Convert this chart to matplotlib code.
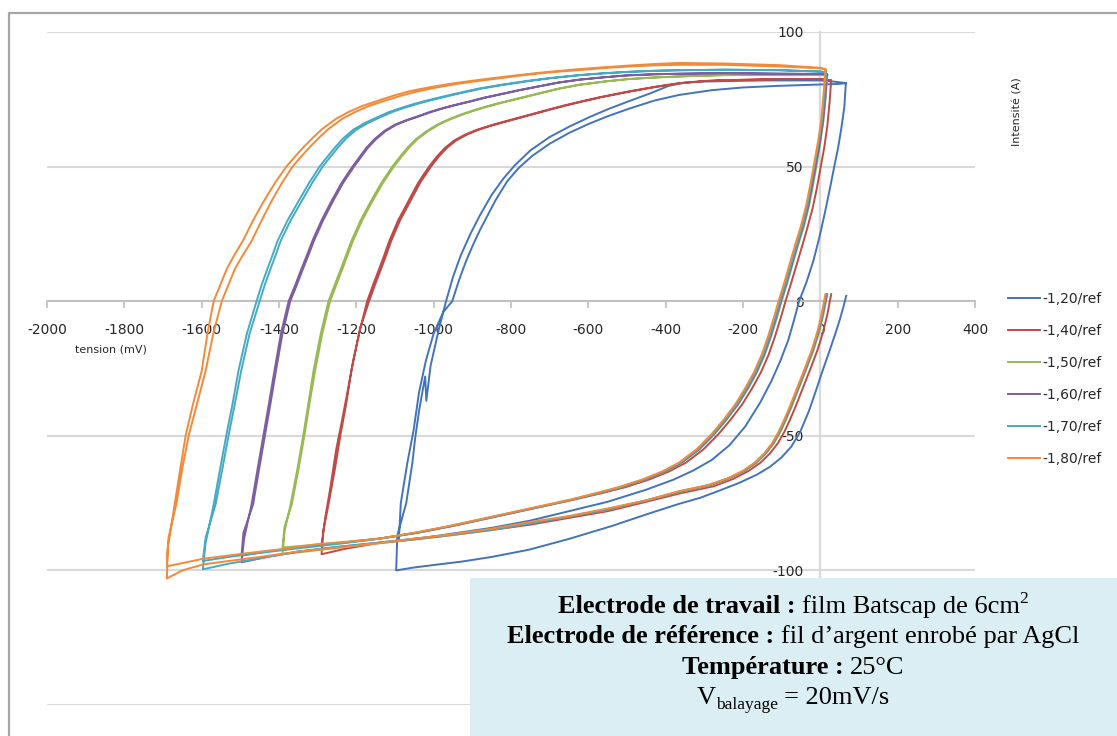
import matplotlib
matplotlib.use("Agg")
import matplotlib.pyplot as plt
from matplotlib.lines import Line2D
from matplotlib.patches import Rectangle

plt.rcParams['axes.unicode_minus'] = False
plt.rcParams['font.family'] = ['DejaVu Sans']

# ---------------- data (tension mV, intensité A), path order ----------------
c120 = [(67, 2), (58, -3), (50, -7), (39, -12), (20, -20), (3, -27), (-12, -33.5), (-30, -41), (-52, -48.5),
        (-75, -54), (-100, -58), (-130, -61.5), (-165, -64.5), (-210, -67.5), (-260, -70.3), (-310, -73),
        (-366, -75.3), (-450, -79.2), (-539, -83.5), (-650, -88.3), (-753, -92.3), (-850, -95), (-926, -96.7),
        (-1000, -98), (-1055, -99), (-1097, -100),
        (-1094, -87), (-1071, -75), (-1055, -60), (-1048, -51), (-1037, -40), (-1022, -28), (-1019, -37),
        (-1008, -24), (-986, -10), (-968, 0), (-950, 9), (-930, 17), (-905, 25), (-880, 32), (-850, 39.5),
        (-820, 45.5), (-790, 50.5), (-750, 56), (-700, 61), (-650, 64.8), (-600, 68.2), (-550, 71.3),
        (-495, 74.3), (-440, 77.2), (-392, 80), (-350, 81.2), (-300, 81.6), (-150, 82), (0, 82), (40, 81.5),
        (66, 81),
        (62, 72), (54, 64), (46, 57), (36, 50), (25, 42), (12, 33), (-2, 24), (-18, 15), (-36, 7), (-55, 0),
        (-68, -7), (-83, -14.5), (-103, -22), (-126, -29.5), (-155, -37.5), (-194, -46.5), (-235, -53.5),
        (-281, -59), (-330, -63), (-380, -66.3), (-450, -70), (-550, -74.5), (-650, -78), (-750, -81.5),
        (-850, -84.2), (-950, -86.3), (-1030, -88), (-1090, -89),
        (-1085, -75), (-1068, -60), (-1052, -48), (-1038, -34), (-1020, -22), (-1000, -12), (-975, -4),
        (-952, 0), (-934, 8), (-916, 15), (-898, 21), (-880, 26.5), (-860, 32), (-840, 37.5), (-810, 44.5),
        (-780, 49.5), (-745, 54), (-700, 58.5), (-650, 62.5), (-600, 65.8), (-550, 68.7), (-495, 71.5),
        (-430, 74.5), (-366, 76.6), (-280, 78.4), (-200, 79.4), (-108, 80), (0, 80.5), (46, 80.7), (66, 81)]

c140 = [(28, 2.6), (18, -5), (7, -11.5), (-7, -18), (-24, -24.5), (-43, -31.5), (-65, -39.5), (-80, -44.5),
        (-93, -48.5), (-110, -52.8), (-130, -56.5), (-155, -60), (-185, -63), (-225, -66), (-275, -68.7),
        (-366, -71.5), (-450, -74.5), (-550, -78), (-650, -80.5), (-750, -83), (-850, -85), (-960, -87),
        (-1050, -88.5), (-1150, -90), (-1230, -92), (-1290, -94),
        (-1285, -85), (-1272, -75.5), (-1255, -62), (-1241, -49.6), (-1226, -38), (-1213, -26), (-1193, -12),
        (-1172, 0), (-1157, 6), (-1141, 12), (-1128, 17), (-1115, 22.3), (-1092, 30), (-1066, 37),
        (-1040, 44), (-1012, 50), (-993, 53.5), (-972, 56.8), (-948, 59.6), (-920, 61.8), (-890, 63.6),
        (-860, 65), (-831, 66.2), (-790, 67.8), (-750, 69.4), (-700, 71.3), (-660, 72.8), (-625, 74),
        (-570, 75.8), (-500, 77.8), (-430, 79.6), (-366, 81), (-300, 81.8), (-250, 82.1), (-108, 82.5),
        (0, 82.5), (28, 82),
        (24, 74), (18, 65), (10, 57), (1, 50), (-9, 42), (-20, 34.5), (-34, 27), (-48, 20), (-62, 13.2),
        (-76, 6.5), (-90, 0), (-102, -6), (-117, -13), (-134, -20), (-154, -26.5), (-177, -32.5),
        (-202, -38.3), (-232, -44), (-263, -49.3), (-302, -55), (-348, -60), (-392, -63.3), (-442, -66.2),
        (-502, -69), (-565, -71.3), (-640, -73.8), (-710, -76), (-790, -78.5), (-870, -81), (-950, -83.5),
        (-1040, -86), (-1140, -88.2), (-1220, -89.5), (-1290, -90.5),
        (-1280, -80), (-1268, -70), (-1252, -55), (-1238, -45), (-1222, -33), (-1208, -22), (-1190, -10),
        (-1167, 0), (-1152, 6), (-1136, 12), (-1123, 17), (-1110, 22.3), (-1087, 30), (-1061, 37),
        (-1035, 44), (-1007, 50), (-988, 53.5), (-967, 56.8), (-943, 59.6), (-915, 61.8), (-885, 63.6),
        (-855, 65), (-826, 66.2), (-785, 67.8), (-745, 69.4), (-695, 71.3), (-655, 72.8), (-620, 74),
        (-565, 75.8), (-495, 77.8), (-425, 79.6), (-360, 81), (-295, 81.8), (-245, 82.1), (-100, 82.5),
        (0, 82.5), (28, 82)]

c150 = [(18, 2.6), (8, -5), (-3, -11.5), (-17, -18), (-34, -24.5), (-53, -31.5), (-75, -39.5), (-90, -44.5),
        (-103, -48.5), (-120, -52.8), (-140, -56.5), (-165, -60), (-195, -63), (-235, -65.9), (-285, -68.4),
        (-366, -71), (-450, -74), (-550, -77.5), (-650, -80), (-750, -82.5), (-850, -85), (-960, -87),
        (-1050, -88.5), (-1150, -90), (-1270, -92), (-1391, -94),
        (-1385, -85), (-1370, -75.5), (-1352, -62), (-1337, -49.6), (-1324, -38), (-1311, -26), (-1292, -12),
        (-1272, 0), (-1256, 6), (-1240, 12), (-1227, 17), (-1213, 22.3), (-1189, 30), (-1163, 37),
        (-1135, 44), (-1107, 50), (-1088, 53.5), (-1068, 57), (-1046, 60.2), (-1020, 63), (-992, 65.5),
        (-962, 67.5), (-930, 69.3), (-895, 71), (-862, 72.4), (-831, 73.6), (-780, 75.4), (-730, 77.2),
        (-680, 78.9), (-625, 80.4), (-560, 81.6), (-500, 82.5), (-430, 83.1), (-366, 83.5), (-250, 84),
        (-108, 84), (0, 84), (18, 84),
        (14, 76), (8, 67), (0, 59), (-9, 51), (-19, 43), (-29, 35.5), (-42, 28), (-57, 21), (-72, 13.5),
        (-86, 6.5), (-100, 0), (-112, -6), (-127, -13), (-144, -20), (-164, -26.5), (-187, -32.5),
        (-212, -38.3), (-242, -44), (-273, -49.3), (-312, -55), (-358, -60), (-402, -63.3), (-452, -66.2),
        (-512, -69), (-572, -71.3), (-642, -73.8), (-712, -76), (-792, -78.5), (-872, -81), (-952, -83.5),
        (-1042, -86), (-1140, -88.2), (-1270, -90), (-1391, -91.5),
        (-1386, -84), (-1367, -75.5), (-1349, -62), (-1334, -49.6), (-1321, -38), (-1307, -26), (-1288, -12),
        (-1268, 0), (-1252, 6), (-1236, 12), (-1223, 17), (-1209, 22.3), (-1185, 30), (-1159, 37),
        (-1131, 44), (-1103, 50), (-1084, 53.5), (-1064, 57), (-1042, 60.2), (-1016, 63), (-988, 65.5),
        (-958, 67.5), (-926, 69.3), (-891, 71), (-858, 72.4), (-827, 73.6), (-776, 75.4), (-726, 77.2),
        (-676, 78.9), (-621, 80.4), (-556, 81.6), (-496, 82.5), (-426, 83.1), (-362, 83.5), (-246, 84),
        (-104, 84), (0, 84), (18, 84)]

c160 = [(17, 2.6), (6, -5), (-5, -11.5), (-19, -18), (-36, -24.5), (-55, -31.5), (-77, -39.5), (-92, -44.5),
        (-105, -48.5), (-122, -52.8), (-142, -56.5), (-167, -60), (-197, -63), (-237, -65.8), (-287, -68.3),
        (-366, -70.8), (-450, -74), (-550, -77.3), (-650, -80), (-750, -82.5), (-850, -84.8), (-960, -86.8),
        (-1050, -88.3), (-1150, -89.8), (-1250, -91.3), (-1350, -93), (-1430, -95), (-1497, -97),
        (-1490, -88), (-1471, -75.5), (-1455, -62), (-1440, -49.6), (-1426, -38), (-1412, -26), (-1395, -12),
        (-1375, 0), (-1358, 6), (-1342, 12), (-1328, 17), (-1314, 22.3), (-1290, 30), (-1265, 37),
        (-1238, 44), (-1210, 50), (-1192, 53.5), (-1174, 57), (-1153, 60.2), (-1128, 63.2), (-1100, 65.6),
        (-1070, 67.3), (-1045, 68.5), (-1010, 70.3), (-975, 71.8), (-940, 73.1), (-908, 74.2), (-870, 75.6),
        (-831, 76.8), (-780, 78.4), (-730, 79.8), (-680, 81.2), (-625, 82.3), (-560, 83.2), (-500, 83.9),
        (-430, 84.3), (-366, 84.5), (-250, 84.7), (-108, 84.5), (0, 84.4), (17, 84.3),
        (13, 76), (7, 67), (-1, 59), (-11, 51), (-21, 43), (-31, 35.5), (-44, 28), (-59, 21), (-74, 13.5),
        (-88, 6.5), (-102, 0), (-114, -6), (-129, -13), (-146, -20), (-166, -26.5), (-189, -32.5),
        (-214, -38.3), (-244, -44), (-275, -49.3), (-314, -55), (-360, -60), (-404, -63.3), (-454, -66.2),
        (-514, -69), (-574, -71.3), (-644, -73.8), (-714, -76), (-794, -78.5), (-874, -81), (-954, -83.5),
        (-1044, -86), (-1140, -88.2), (-1250, -90), (-1350, -91.5), (-1430, -93), (-1497, -94.5),
        (-1492, -86), (-1467, -75.5), (-1451, -62), (-1436, -49.6), (-1422, -38), (-1408, -26), (-1391, -12),
        (-1371, 0), (-1354, 6), (-1338, 12), (-1324, 17), (-1310, 22.3), (-1286, 30), (-1261, 37),
        (-1234, 44), (-1206, 50), (-1188, 53.5), (-1170, 57), (-1149, 60.2), (-1124, 63.2), (-1096, 65.6),
        (-1066, 67.3), (-1041, 68.5), (-1006, 70.3), (-971, 71.8), (-936, 73.1), (-904, 74.2), (-866, 75.6),
        (-827, 76.8), (-776, 78.4), (-726, 79.8), (-676, 81.2), (-621, 82.3), (-556, 83.2), (-496, 83.9),
        (-426, 84.3), (-362, 84.5), (-246, 84.7), (-104, 84.5), (0, 84.4), (17, 84.3)]

c170 = [(15, 2.6), (5, -5), (-6, -11.5), (-20, -18), (-37, -24.5), (-56, -31.5), (-78, -39.5), (-93, -44.5),
        (-106, -48.5), (-123, -52.8), (-143, -56.5), (-168, -60), (-198, -63), (-238, -65.8), (-288, -68.3),
        (-366, -70.7), (-450, -74), (-550, -77.2), (-650, -80), (-750, -82.5), (-850, -84.8), (-960, -86.8),
        (-1050, -88.2), (-1150, -89.8), (-1250, -91.3), (-1350, -93), (-1450, -95.5), (-1530, -97.5),
        (-1597, -99.6),
        (-1590, -90), (-1569, -75.5), (-1552, -62), (-1536, -49.6), (-1520, -38), (-1505, -26), (-1483, -12),
        (-1458, 0), (-1445, 6), (-1430, 12), (-1417, 17), (-1404, 22.3), (-1378, 30), (-1350, 37),
        (-1322, 44), (-1295, 50), (-1276, 53.5), (-1256, 57), (-1234, 60.5), (-1208, 63.7), (-1178, 66.2),
        (-1148, 68.2), (-1115, 70.3), (-1080, 72), (-1050, 73.3), (-1019, 74.5), (-985, 75.7), (-950, 76.9),
        (-915, 78), (-883, 79), (-830, 80.3), (-760, 81.8), (-700, 82.9), (-625, 84), (-560, 84.7),
        (-500, 85.2), (-430, 85.6), (-366, 85.8), (-250, 86), (-108, 85.8), (0, 85.3), (15, 85),
        (11, 77), (5, 68), (-3, 60), (-13, 52), (-23, 44), (-33, 36), (-46, 28), (-61, 21), (-76, 13.5),
        (-90, 6.5), (-104, 0), (-116, -6), (-131, -13), (-148, -20), (-168, -26.5), (-191, -32.5),
        (-216, -38.3), (-246, -44), (-277, -49.3), (-316, -55), (-362, -60), (-406, -63.3), (-456, -66.2),
        (-516, -69), (-576, -71.3), (-646, -73.8), (-716, -76), (-796, -78.5), (-876, -81), (-956, -83.5),
        (-1046, -86), (-1140, -88.2), (-1250, -90.2), (-1350, -91.8), (-1450, -93.5), (-1530, -95),
        (-1597, -96.5),
        (-1590, -88), (-1564, -75.5), (-1546, -62), (-1530, -49.6), (-1514, -38), (-1498, -26), (-1476, -12),
        (-1450, 0), (-1437, 6), (-1422, 12), (-1409, 17), (-1396, 22.3), (-1370, 30), (-1342, 37),
        (-1314, 44), (-1287, 50), (-1268, 53.5), (-1248, 57), (-1226, 60.5), (-1200, 63.7), (-1170, 66.2),
        (-1140, 68.2), (-1107, 70.3), (-1072, 72), (-1042, 73.3), (-1011, 74.5), (-977, 75.7), (-942, 76.9),
        (-907, 78), (-875, 79), (-822, 80.3), (-752, 81.8), (-692, 82.9), (-617, 84), (-552, 84.7),
        (-492, 85.2), (-424, 85.6), (-360, 85.8), (-245, 86), (-100, 85.8), (0, 85.3), (15, 85)]

c180 = [(13, 2.6), (3, -5), (-8, -11.5), (-22, -18), (-39, -24.5), (-58, -31.5), (-80, -39.5), (-95, -44.5),
        (-108, -48.5), (-125, -52.8), (-145, -56.5), (-170, -60), (-200, -63), (-240, -65.8), (-290, -68.3),
        (-366, -70.6), (-450, -74), (-550, -77), (-650, -79.8), (-750, -82), (-850, -84.5), (-960, -86.7),
        (-1050, -88.2), (-1150, -90), (-1250, -91.6), (-1350, -93), (-1450, -95), (-1530, -96.5),
        (-1597, -97.8), (-1650, -100), (-1690, -103),
        (-1688, -92), (-1670, -75.5), (-1655, -62), (-1641, -49.6), (-1622, -38), (-1600, -26), (-1585, -12),
        (-1569, 0), (-1552, 6), (-1535, 12), (-1516, 17), (-1494, 22.3), (-1467, 30), (-1440, 37),
        (-1410, 44), (-1381, 50), (-1360, 53.5), (-1338, 57), (-1314, 60.5), (-1288, 64), (-1252, 67.8),
        (-1220, 70.3), (-1185, 72.5), (-1148, 74.3), (-1105, 76.3), (-1063, 78), (-1010, 79.5), (-960, 80.7),
        (-900, 81.9), (-839, 83), (-780, 84), (-730, 84.8), (-680, 85.5), (-625, 86.2), (-560, 86.9),
        (-500, 87.5), (-430, 88.1), (-366, 88.5), (-250, 88.3), (-108, 87.7), (0, 86.7), (13, 86.2),
        (9, 78), (3, 68), (-5, 60), (-15, 52), (-25, 44), (-36, 36), (-50, 28), (-65, 21), (-80, 13.5),
        (-94, 6.5), (-108, 0), (-120, -6), (-135, -13), (-152, -20), (-172, -26.5), (-195, -32.5),
        (-220, -38.3), (-250, -44), (-281, -49.3), (-320, -55), (-366, -60), (-410, -63.3), (-460, -66.2),
        (-520, -69), (-580, -71.3), (-650, -73.8), (-720, -76), (-800, -78.5), (-880, -81), (-960, -83.5),
        (-1050, -86), (-1140, -88.2), (-1220, -89.3), (-1303, -90.3), (-1400, -92.2), (-1494, -93.8),
        (-1597, -95.7), (-1690, -98.5),
        (-1686, -88), (-1665, -75), (-1650, -62), (-1633, -49.6), (-1612, -38), (-1590, -26), (-1570, -12),
        (-1548, 0), (-1531, 6), (-1514, 12), (-1494, 17), (-1471, 22.3), (-1445, 30), (-1420, 37),
        (-1392, 44), (-1365, 50), (-1344, 53.5), (-1322, 57), (-1298, 60.5), (-1272, 64), (-1236, 67.8),
        (-1203, 70.3), (-1168, 72.5), (-1130, 74.3), (-1085, 76.3), (-1040, 78), (-988, 79.5), (-940, 80.7),
        (-880, 81.9), (-820, 83), (-765, 84), (-715, 84.8), (-665, 85.4), (-610, 86), (-550, 86.7),
        (-490, 87.2), (-430, 87.6), (-366, 87.8), (-250, 87.8), (-108, 87.2), (0, 86.5), (15, 86)]

series = [c120, c140, c150, c160, c170, c180]
labels = ["-1,20/ref", "-1,40/ref", "-1,50/ref", "-1,60/ref", "-1,70/ref", "-1,80/ref"]
colors = ["#4274BA", "#BE4B48", "#98B954", "#7D5FA0", "#46AAC5", "#F28A3A"]

xticks = [-2000, -1800, -1600, -1400, -1200, -1000, -800, -600, -400, -200, 0, 200, 400]
yticks = [-150, -100, -50, 0, 50, 100]
ytick_labels = ["", "-100", "-50", "0", "50", "100"]

# ---------------- figure ----------------
W, H = 1117, 736
fig = plt.figure(figsize=(W / 100, H / 100), dpi=100)
fig.patch.set_facecolor("white")

ax = fig.add_axes([47 / W, 1 - 705 / H, 928 / W, (705 - 32) / H])
ax.set_xlim(-2000, 400)
ax.set_ylim(-150, 100)
ax.patch.set_alpha(0)

for s, lab, col in zip(series, labels, colors):
    xs = [p[0] for p in s]
    ys = [p[1] for p in s]
    ax.plot(xs, ys, color=col, lw=1.4, label=lab, zorder=3, solid_joinstyle="round")

ax.spines["top"].set_visible(False)
ax.spines["right"].set_visible(False)
ax.spines["bottom"].set_position(("data", 0))
ax.spines["left"].set_position(("data", 0))
ax.spines["bottom"].set_color("#BFBFBF")
ax.spines["left"].set_color("#D9D9D9")
ax.spines["bottom"].set_linewidth(1.3)
ax.spines["left"].set_linewidth(1.6)
ax.spines["bottom"].set_zorder(1.5)
ax.spines["left"].set_zorder(1.5)

ax.set_xticks(xticks)
ax.set_xticklabels([str(v) for v in xticks])
ax.set_yticks(yticks)
ax.set_yticklabels(ytick_labels)
ax.tick_params(axis="x", direction="out", length=5, width=1.2, color="#BFBFBF",
               labelsize=10, pad=11, labelcolor="#262626")
ax.tick_params(axis="y", length=0, labelsize=10, pad=12, labelcolor="#262626")
ax.grid(axis="y", color="#D9D9D9", lw=1.5, zorder=0)
ax.set_axisbelow(True)

fig.text(111 / W, 1 - 349 / H, "tension (mV)", fontsize=8, ha="center", va="center", color="#262626")
fig.text(1018 / W, 1 - 112 / H, "Intensité (A)", fontsize=8, rotation=90, ha="center", va="center",
         color="#262626")

leg = ax.legend(loc="upper left", bbox_to_anchor=(1008 / W, 1 - 292 / H), bbox_transform=fig.transFigure,
                frameon=False, fontsize=10, handlelength=2.3, handletextpad=0.15, labelspacing=1.3,
                borderpad=0, borderaxespad=0)
for t in leg.get_texts():
    t.set_color("#262626")

# chart outer border (top and left visible)
fig.add_artist(Line2D([9 / W, 9 / W, 1.0], [0.0, 1 - 13 / H, 1 - 13 / H], transform=fig.transFigure,
                      color="#A6A6A6", lw=1.6))

# ---------------- information box ----------------
fig.add_artist(Rectangle((470 / W, 0), 1 - 470 / W, (736 - 578) / H, transform=fig.transFigure,
                         facecolor="#DAEEF3", edgecolor="none", zorder=10))

serif = "Liberation Serif"
renderer = fig.canvas.get_renderer()


def text_width(s, size, weight):
    t = fig.text(0, 0, s, fontsize=size, fontweight=weight, family=serif)
    w = t.get_window_extent(renderer).width
    t.remove()
    return w


def rich_line(parts, cx, base):
    widths = []
    gaps = []
    for txt, weight, size, rise, gap in parts:
        widths.append(text_width(txt, size, weight))
        if gap:
            gaps.append(text_width("a a", 19, "normal") - text_width("aa", 19, "normal"))
        else:
            gaps.append(0.0)
    total = sum(widths) + sum(gaps)
    x = cx - total / 2
    for (txt, weight, size, rise, gap), w, g in zip(parts, widths, gaps):
        x += g
        fig.text(x / W, 1 - (base - rise) / H, txt, fontsize=size, fontweight=weight, family=serif,
                 ha="left", va="baseline", color="black", zorder=11)
        x += w


cx = 793
rich_line([("Electrode de travail :", "bold", 19, 0, False),
           ("film Batscap de 6cm", "normal", 19, 0, True),
           ("2", "normal", 12.5, 10, False)], cx, 613)
rich_line([("Electrode de référence :", "bold", 19, 0, False),
           ("fil d’argent enrobé par AgCl", "normal", 19, 0, True)], cx, 643)
rich_line([("Température :", "bold", 19, 0, False),
           ("25°C", "normal", 19, 0, True)], cx, 674)
rich_line([("V", "normal", 19, 0, False),
           ("balayage", "normal", 12.5, -5, False),
           ("= 20mV/s", "normal", 19, 0, True)], cx, 704)

fig.savefig("out.png", dpi=100)
